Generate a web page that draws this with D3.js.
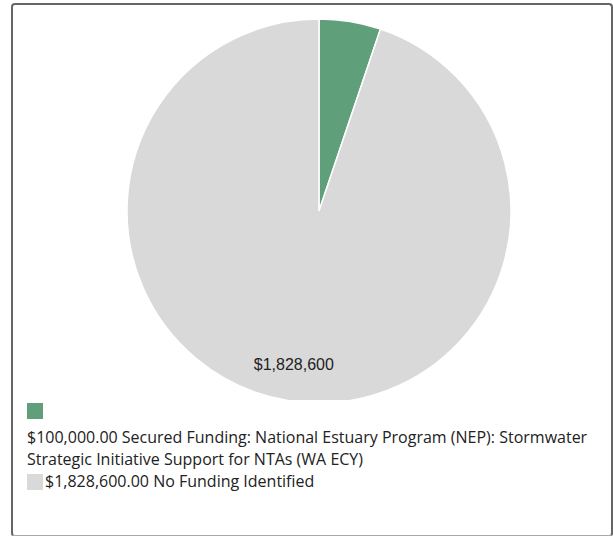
<!DOCTYPE html>
<html><head><meta charset="utf-8">
<script src="https://cdn.jsdelivr.net/npm/d3@7"></script>
<style>
body{margin:0;background:#fff;}
#box{position:absolute;left:11px;top:3px;width:598px;height:530px;border:2px solid #666;border-bottom-color:#aaa;border-radius:4px;}
#legend{position:absolute;left:27px;top:403px;width:575px;font-family:"Open Sans",sans-serif;font-size:16px;color:#222;line-height:22px;}
.sw{display:inline-block;width:16px;height:16px;vertical-align:middle;}
</style></head>
<body>
<div id="box"></div>
<svg id="chart" width="613" height="400" style="position:absolute;left:0;top:0"></svg>
<div id="legend"></div>
<script>
const labels = ["Secured Funding: National Estuary Program (NEP): Stormwater Strategic Initiative Support for NTAs (WA ECY)", "No Funding Identified"];
const values = [100000, 1828600];
const colors = ["#5fa07a", "#d9d9d9"];

const svg = d3.select("#chart");
const cx = 319, cy = 211, r = 192;
const g = svg.append("g").attr("transform", `translate(${cx},${cy})`);
const pie = d3.pie().sort(null)(values);
const arc = d3.arc().innerRadius(0).outerRadius(r);
g.selectAll("path").data(pie).join("path")
  .attr("d", arc).attr("fill", (d,i)=>colors[i])
  .attr("stroke", "#fff").attr("stroke-width", 1.5);
const labelArc = d3.arc().innerRadius(r*0.81).outerRadius(r*0.81);
g.selectAll("text").data(pie).join("text")
  .filter(d => d.endAngle - d.startAngle > 1)
  .attr("transform", d => `translate(${labelArc.centroid(d)})`)
  .attr("text-anchor", "middle").attr("dy", "0.35em")
  .attr("font-family", "Arial, Liberation Sans, sans-serif").attr("font-size", 16).attr("fill", "#222")
  .text(d => "$" + d3.format(",")(d.value));

const fmt = d3.format(",.2f");
const lg = d3.select("#legend");
const i1 = lg.append("div");
i1.append("div").attr("class","sw").style("background", colors[0]).style("display","block").style("margin-bottom","7px");
i1.append("div").text("$" + fmt(values[0]) + " " + labels[0]);
const i2 = lg.append("div");
i2.append("span").attr("class","sw").style("background", colors[1]).style("margin-right","2px").style("position","relative").style("top","-1px");
i2.append("span").text("$" + fmt(values[1]) + " " + labels[1]);
</script>
</body></html>
